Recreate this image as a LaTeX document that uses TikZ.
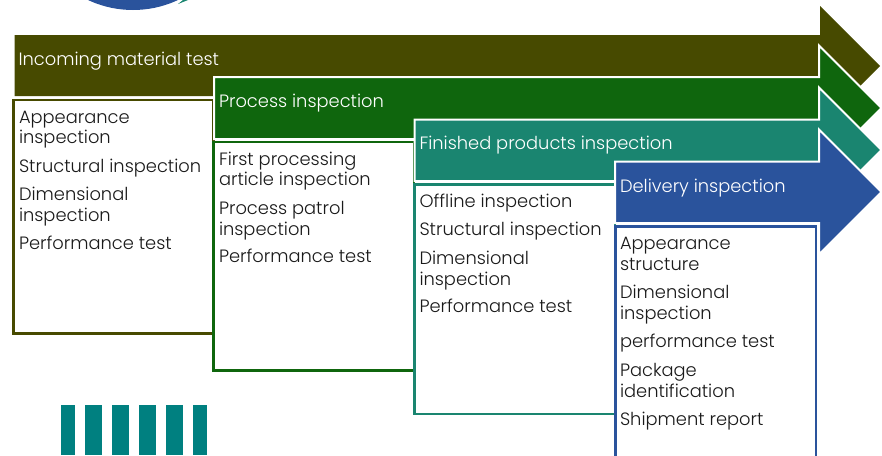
\documentclass[tikz,border=0pt]{standalone}
\usepackage{fontspec}
\setmainfont{Poppins}[UprightFont=* Light]
\definecolor{olivec}{HTML}{474A00}
\definecolor{greenc}{HTML}{0F660D}
\definecolor{tealc}{HTML}{1A8570}
\definecolor{bluec}{HTML}{2A539C}
\definecolor{barc}{HTML}{008080}
\definecolor{inkc}{HTML}{1A1A1A}
\tikzset{
  x=1pt,y=-1pt,
  arrowshape/.style={draw=white,line width=2pt,miter limit=10},
  boxshape/.style={fill=white,line width=2.6pt,line join=miter},
  head/.style={anchor=base west,inner sep=0pt,outer sep=0pt,text=white,font=\fontsize{17.85}{20}\selectfont},
  item/.style={anchor=base west,inner sep=0pt,outer sep=0pt,text=inkc,font=\fontsize{17.85}{20}\selectfont},
  bar/.style={fill=barc,draw=none}
}
\begin{document}
\begin{tikzpicture}
\useasboundingbox (0,0) rectangle (882,455);
\clip (0,0) rectangle (882,455);
% top circle
\fill[bluec] (133,-96) circle[radius=106];
\fill[tealc] (178,4) -- (188,0) -- (183,0) -- cycle;
% arrow 1
\fill[olivec] (14.5,35) -- (820,35) -- (820,6) -- (880,66) -- (820,126) -- (820,96) -- (14.5,96) -- cycle;
\draw[boxshape,draw=olivec] (13.5,100) rectangle (213.5,333.5);
% arrow 2
\filldraw[arrowshape,fill=greenc] (214,77) -- (819,77) -- (819,45.5) -- (881.5,108) -- (819,170.5) -- (819,139) -- (214,139) -- cycle;
\draw[boxshape,draw=greenc] (213.5,142) rectangle (414,370.5);
% arrow 3
\filldraw[arrowshape,fill=tealc] (414.5,119.5) -- (819,119.5) -- (819,87.5) -- (881.5,150) -- (819,212.5) -- (819,181) -- (414.5,181) -- cycle;
\draw[boxshape,draw=tealc] (414.5,184.5) rectangle (615,414);
% arrow 4
\filldraw[arrowshape,fill=bluec] (615,161.5) -- (819,161.5) -- (819,129.5) -- (881.5,192) -- (819,254.5) -- (819,223) -- (615,223) -- cycle;
\draw[boxshape,draw=bluec] (615.5,226.5) rectangle (816,470);
% bars
\fill[bar] (61,405) rectangle (75,455);
\fill[bar] (85,405) rectangle (102,455);
\fill[bar] (112,405) rectangle (129,455);
\fill[bar] (139,405) rectangle (155.5,455);
\fill[bar] (166,405) rectangle (182.5,455);
\fill[bar] (193,405) rectangle (207,455);
% headings
\node[head] (h1) at (18.5,65) {Incoming material test};
\node[head] (h2) at (219,107) {Process inspection};
\node[head] (h3) at (419.5,149) {Finished products inspection};
\node[head] (h4) at (620,192) {Delivery inspection};
% box 1
\node[item] (a1) at (19,123) {Appearance};
\node[item] (a2) at (19,143) {inspection};
\node[item] (a3) at (19,172) {Structural inspection};
\node[item] (a4) at (19,200) {Dimensional};
\node[item] (a5) at (19,221) {inspection};
\node[item] (a6) at (19,249) {Performance test};
% box 2
\node[item] (b1) at (219,165) {First processing};
\node[item] (b2) at (219,185) {article inspection};
\node[item] (b3) at (219,214) {Process patrol};
\node[item] (b4) at (219,235) {inspection};
\node[item] (b5) at (219,262) {Performance test};
% box 3
\node[item] (c1) at (419.5,207) {Offline inspection};
\node[item] (c2) at (419.5,235) {Structural inspection};
\node[item] (c3) at (419.5,264) {Dimensional};
\node[item] (c4) at (419.5,285) {inspection};
\node[item] (c5) at (419.5,312) {Performance test};
% box 4
\node[item] (d1) at (620,249) {Appearance};
\node[item] (d2) at (620,270) {structure};
\node[item] (d3) at (620,298) {Dimensional};
\node[item] (d4) at (620,319) {inspection};
\node[item] (d5) at (620,347) {performance test};
\node[item] (d6) at (620,376) {Package};
\node[item] (d7) at (620,397) {identification};
\node[item] (d8) at (620,425) {Shipment report};
\end{tikzpicture}
\end{document}
